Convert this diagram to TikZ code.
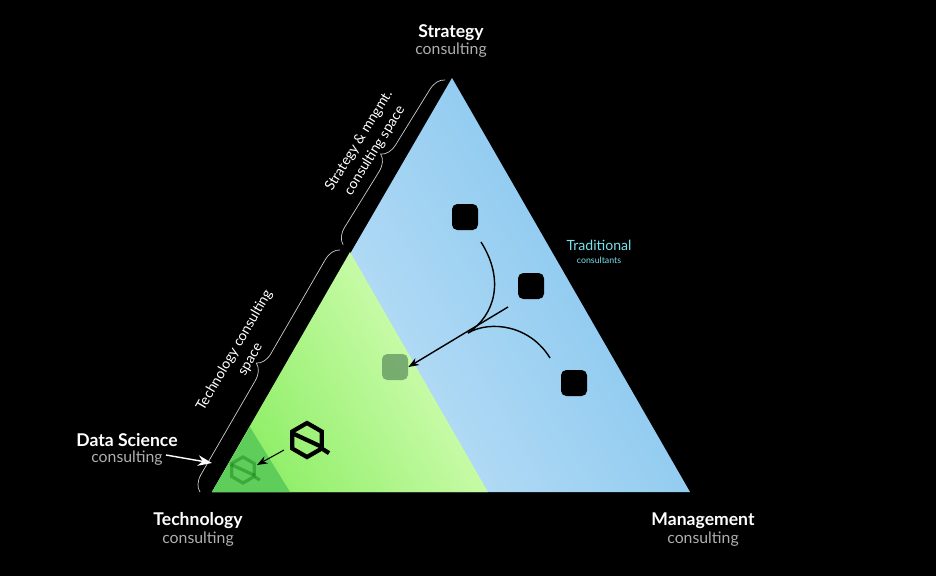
\documentclass[tikz,border=0pt]{standalone}
\usepackage{fontspec}
\setmainfont{Lato}
\usetikzlibrary{decorations.pathreplacing,arrows.meta}
\definecolor{bluedark}{RGB}{128,196,238}
\definecolor{bluelight}{RGB}{200,228,248}
\definecolor{greenlight}{RGB}{220,255,190}
\definecolor{greendark}{RGB}{140,238,100}
\definecolor{seagreen}{RGB}{95,205,90}
\definecolor{cyantext}{RGB}{120,225,235}
\definecolor{greytext}{RGB}{175,175,175}
\tikzset{
  title/.style={text=white,font=\bfseries,inner sep=1pt},
  sub/.style={text=greytext,font=\small,inner sep=1pt},
  box/.style={rounded corners=3pt,minimum size=0.52cm,inner sep=0pt},
  brc/.style={draw=white!80!black,thin,decoration={brace,amplitude=9pt,mirror},decorate},
  brlabel/.style={midway,sloped,above=9pt,text=white,font=\footnotesize,align=center,inner sep=0pt},
  conn/.style={thick,-{Stealth[length=6pt]}}
}
\newcommand{\hexlogo}[3]{% center, size, color
  \begin{scope}[shift={#1},scale=#2,draw=#3,line width=2.4pt*#2/17]
    \draw (90:1)--(150:1)--(210:1)--(270:1)--(330:1)--(30:1)--cycle;
    \draw (205:1)--(25:1);
    \draw (30:1)++(0.08,0.05)--++(0.35,0.22);
  \end{scope}}
\begin{document}
\begin{tikzpicture}[x=0.02cm,y=-0.02cm]
\fill[black] (0,0) rectangle (936,576);
% triangles
\coordinate (top) at (452,78);
\coordinate (bl) at (212,492);
\coordinate (br) at (690,492);
\coordinate (gtop) at (350,252);
\coordinate (gbr) at (488,492);
\shade[left color=bluelight,right color=bluedark,shading angle=120] (top)--(bl)--(br)--cycle;
\shade[left color=greendark,right color=greenlight,shading angle=120] (gtop)--(bl)--(gbr)--cycle;
\fill[seagreen] (250,427)--(bl)--(290,492)--cycle;
% braces
\draw[brc] (445,80)--(343,245) node[brlabel] {Strategy \& mngmt.\\[1pt]consulting space};
\draw[brc] (340,250)--(200,492) node[brlabel] {Technology consulting\\[1pt]space};
% squares
\node[box,fill=black] (s1) at (465,217) {};
\node[box,fill=black] (s2) at (531,286) {};
\node[box,fill=black] (s3) at (574,383) {};
\node[box,fill=black!20!green!25!gray,fill opacity=0.75] (s4) at (395,367) {};
\coordinate (m) at (468,333);
\draw[thick] (481,242) .. controls (505,280) and (495,315) .. (m);
\draw[thick] (550,358) .. controls (530,325) and (490,320) .. (m);
\draw[conn] (508,307) -- (s4.east);
% logos
\hexlogo{(307,440)}{17}{black}
\begin{scope}[opacity=0.35]\hexlogo{(243,470)}{13}{black!60!green}\end{scope}
\coordinate (lg) at (284,450);
\draw[conn,semithick] (lg) -- (257,465);
% labels
\node[title] (strat) at (451,33) {Strategy};
\node[sub] at (451,50) {consulting};
\node[title] (tech) at (198,521) {Technology};
\node[sub] at (198,539) {consulting};
\node[title] (mgmt) at (703,521) {Management};
\node[sub] at (703,539) {consulting};
\node[title] (ds) at (127,440) {Data Science};
\node[sub] (dss) at (127,458) {consulting};
\draw[-{Stealth[length=8pt]},white,thick] (166,455) -- (212,463);
\node[text=cyantext,font=\footnotesize] (trad) at (599,245) {Traditional};
\node[text=cyantext,font=\tiny] at (599,260) {consultants};
\end{tikzpicture}
\end{document}
